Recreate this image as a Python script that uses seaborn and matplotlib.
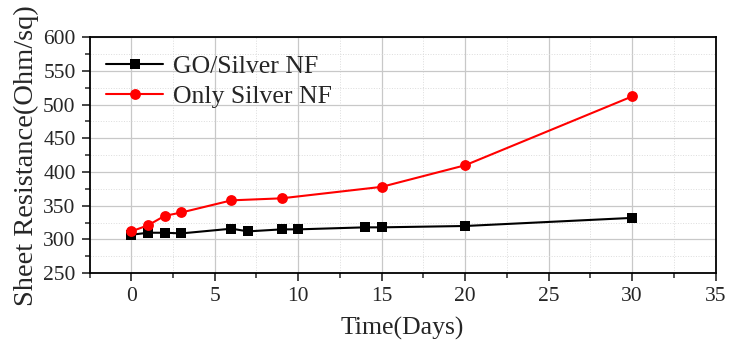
import matplotlib
matplotlib.use("Agg")
import matplotlib.pyplot as plt
import seaborn as sns
import pandas as pd
from matplotlib.ticker import MultipleLocator

# datos
go_days = [0, 1, 2, 3, 6, 7, 9, 10, 14, 15, 20, 30]
go_res = [307, 310, 310, 309, 316, 312, 315, 315, 318, 318, 320, 332]
ag_days = [0, 1, 2, 3, 6, 9, 15, 20, 30]
ag_res = [312, 321, 335, 340, 358, 361, 378, 410, 512]

labels = ["GO/Silver NF", "Only Silver NF"]

df = pd.concat([
    pd.DataFrame({"Time": go_days, "Res": go_res, "Sample": labels[0]}),
    pd.DataFrame({"Time": ag_days, "Res": ag_res, "Sample": labels[1]}),
])

sns.set_style("white")
plt.rcParams["font.family"] = ["Liberation Serif", "DejaVu Serif"]

fig = plt.figure(figsize=(7.4, 3.53), dpi=100)
ax = fig.add_axes([0.121, 0.226, 0.846, 0.669])

sns.lineplot(data=df, x="Time", y="Res", hue="Sample", style="Sample",
             palette={labels[0]: "black", labels[1]: "red"},
             markers={labels[0]: "s", labels[1]: "o"},
             dashes=False, markersize=7, linewidth=1.5,
             markeredgewidth=0, ax=ax)

# tamaño de marcadores distinto por serie
sizes = {labels[0]: 6.8, labels[1]: 7.8}
for ln, lab in zip(ax.lines, labels):
    ln.set_markersize(sizes[lab])

ax.set_xlim(-2.5, 35)
ax.set_ylim(250, 600)
ax.xaxis.set_major_locator(MultipleLocator(5))
ax.xaxis.set_minor_locator(MultipleLocator(2.5))
ax.yaxis.set_major_locator(MultipleLocator(50))
ax.yaxis.set_minor_locator(MultipleLocator(25))

ax.grid(which="major", color="#c8c8c8", linewidth=0.9, linestyle="-")
ax.grid(which="minor", color="#dcdcdc", linewidth=0.7, linestyle=":")
ax.set_axisbelow(True)

for s in ax.spines.values():
    s.set_color("black")
    s.set_linewidth(1.3)

ax.tick_params(which="major", direction="out", length=6, width=1.2,
               labelsize=15.5, pad=4, bottom=True, left=True, top=False, right=False)
ax.tick_params(which="minor", direction="out", length=3.5, width=1.1,
               bottom=True, left=True, top=False, right=False)

ax.set_xlabel("Time(Days)", fontsize=18.5, labelpad=8)
ax.set_ylabel("Sheet Resistance(Ohm/sq)", fontsize=20.5, labelpad=3)

leg = ax.legend(loc="upper left", bbox_to_anchor=(-0.01, 1.02), frameon=False,
                fontsize=18.5, handlelength=2.2, handletextpad=0.4,
                labelspacing=0.25, borderaxespad=0.5)
for h, lab in zip(leg.get_lines(), labels):
    h.set_markersize(sizes[lab])

fig.savefig("out.png", dpi=100)
